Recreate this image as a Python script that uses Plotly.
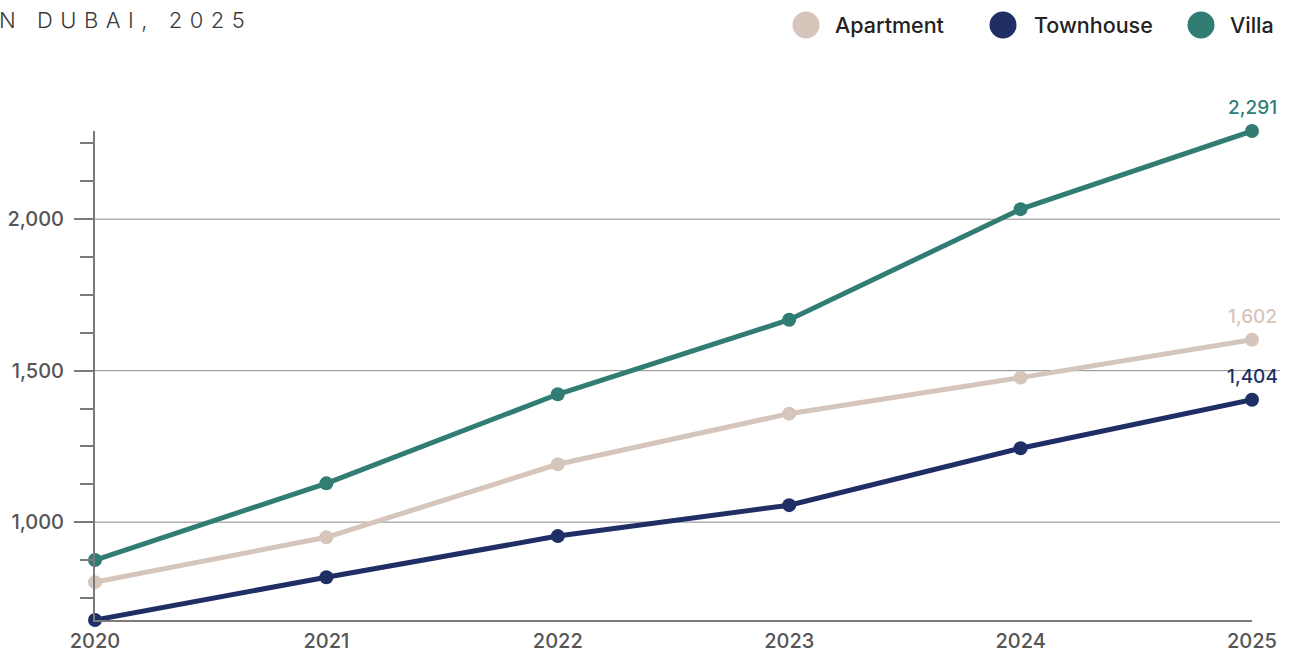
import plotly.graph_objects as go

# Average price per sq ft, by property type
years = [2020, 2021, 2022, 2023, 2024, 2025]
apartment = [802, 950, 1191, 1358, 1477, 1602]
townhouse = [677, 818, 954, 1056, 1244, 1404]
villa = [875, 1128, 1422, 1668, 2033, 2291]

series_names = ["Apartment", "Townhouse", "Villa"]
series_values = [apartment, townhouse, villa]
series_colors = ["#d5c5ba", "#1f2f66", "#317d74"]

y_labels = [1000, 1500, 2000]
title_text = "N DUBAI, 2025"

FONT = "Inter"
W, H = 1290, 652
L, R, T, B = 95, 38, 131, 32
PW, PH = W - L - R, H - T - B


def px_x(px):
    return (px - L) / PW


def px_y(py):
    return (H - B - py) / PH


fig = go.Figure()

for name, vals, col in zip(series_names, series_values, series_colors):
    fig.add_trace(go.Scatter(
        x=years, y=vals, name=name, mode="lines+markers",
        line=dict(color=col, width=5),
        marker=dict(color=col, size=14),
        cliponaxis=False, showlegend=False, hoverinfo="x+y",
    ))
    # value label at the last point
    fig.add_annotation(
        x=years[-1], y=vals[-1], xref="x", yref="y",
        text=f"{vals[-1]:,}", showarrow=False,
        yanchor="bottom", yshift=10,
        font=dict(family=FONT, size=19, color=col, weight=500),
    )

ymin = min(min(v) for v in series_values)
ymax = max(max(v) for v in series_values)

# horizontal reference lines at the labelled values
for v in y_labels:
    fig.add_shape(type="line", xref="paper", yref="y",
                  x0=0, x1=px_x(1280), y0=v, y1=v,
                  line=dict(color="#8a8a8a", width=1), layer="below")

# legend: circles and names across the top right
legend_pos = [(806, 833), (1003, 1032), (1201, 1228)]
for (cx, tx), name, col in zip(legend_pos, series_names, series_colors):
    fig.add_shape(type="circle", xref="paper", yref="paper",
                  xsizemode="pixel", ysizemode="pixel",
                  xanchor=px_x(cx), yanchor=px_y(25),
                  x0=-13.5, x1=13.5, y0=-13.5, y1=13.5,
                  fillcolor=col, line=dict(width=0))
    fig.add_annotation(x=px_x(tx), y=px_y(25), xref="paper", yref="paper",
                       text=name, showarrow=False, xanchor="left", yanchor="middle",
                       font=dict(family=FONT, size=21.5, color="#222222", weight=500))

# spaced-out heading at the top left
gap = "\u2005\u200a"
spaced = gap.join(title_text)
fig.add_annotation(x=px_x(-3), y=px_y(20), xref="paper", yref="paper",
                   text=spaced, showarrow=False, xanchor="left", yanchor="middle",
                   font=dict(family=FONT, size=22, color="#3a3a3a", weight=300))

fig.update_layout(
    width=W, height=H,
    margin=dict(l=L, r=R, t=T, b=B, pad=0, autoexpand=False),
    paper_bgcolor="white", plot_bgcolor="white",
    showlegend=False,
    font=dict(family=FONT, color="#555555"),
    xaxis=dict(
        range=[years[0], years[-1]], tickvals=years, ticktext=[str(y) for y in years],
        showgrid=False, zeroline=False, showline=True, linecolor="#7a7a7a", linewidth=1.5,
        ticks="", automargin=False, ticklabelstandoff=2,
        tickfont=dict(family=FONT, size=20, color="#555555", weight=500),
    ),
    yaxis=dict(
        range=[ymin, ymax], tickvals=y_labels, tickformat=",d",
        showgrid=False, zeroline=False, showline=True, linecolor="#7a7a7a", linewidth=2,
        ticks="outside", ticklen=19, tickcolor="#7a7a7a", tickwidth=1.5, automargin=False,
        ticklabelstandoff=6,
        tickfont=dict(family=FONT, size=20, color="#555555", weight=500),
        minor=dict(tick0=1000, dtick=125, ticks="outside", ticklen=13,
                   tickcolor="#7a7a7a", tickwidth=1.5, showgrid=False),
    ),
)

fig.write_html("out.html")
